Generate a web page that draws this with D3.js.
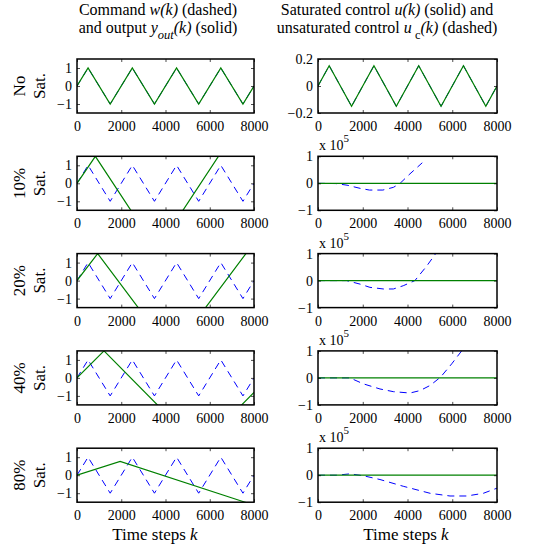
<!DOCTYPE html>
<html>
<head>
<meta charset="utf-8">
<script src="https://cdn.jsdelivr.net/npm/d3@7"></script>
<style>
  body { margin: 0; background: #fff; }
  svg text { font-family: "Liberation Serif", "Times New Roman", serif; }
</style>
</head>
<body>
<div class="graph"></div>
<script>
// time axis
var xTicks = [0, 2000, 4000, 6000, 8000];

// command w(k): triangle wave, same for every row
var wK = [0, 500, 1500, 2500, 3500, 4500, 5500, 6500, 7500, 8000];
var wV = [0, 1, -1, 1, -1, 1, -1, 1, -1, 0];
// no saturation: control u(k) = uc(k)
var uNoSatV = [0, 0.15, -0.15, 0.15, -0.15, 0.15, -0.15, 0.15, -0.15, 0];

// output y_out(k) for each saturation level (turning points)
var y10K = [0, 830, 3610, 8000];
var y10V = [0, 1.5, -3.7, 4.5];
var y20K = [0, 935, 4290, 8000];
var y20V = [0, 1.5, -4.0, 2.1];
var y40K = [0, 1220, 5550, 8000];
var y40V = [0, 1.5, -3.88, -0.8];
var y80K = [0, 1950, 7600, 8000];
var y80V = [0, 0.77, -1.5, -1.66];

// unsaturated control uc(k), in units of 1e5
var uc10K = [0, 800, 1300, 1900, 2300, 2900, 3370, 3670, 4110, 4660];
var uc10V = [0, -0.01, -0.07, -0.19, -0.25, -0.25, -0.15, 0, 0.35, 0.76];
var uc20K = [0, 1280, 1880, 2320, 2920, 3370, 3810, 4330, 4860, 5260];
var uc20V = [0, 0, -0.13, -0.25, -0.31, -0.31, -0.19, 0, 0.54, 1.0];
var uc40K = [0, 1430, 2025, 2770, 3370, 4110, 4560, 5010, 5480, 5975, 6420];
var uc40V = [0, 0, -0.22, -0.41, -0.51, -0.56, -0.47, -0.28, 0.03, 0.52, 1.0];
var uc80K = [0, 830, 1430, 2025, 2770, 3810, 5010, 5900, 6650, 7390, 8000];
var uc80V = [0, 0, 0.05, -0.02, -0.16, -0.41, -0.67, -0.77, -0.77, -0.67, -0.48];
// saturated control u(k), in units of 1e5 (tiny)
var uSatK = [0, 8000];
var uSatV = [0, 0];

var rowLabels = [['No', 'Sat.'], ['10%', 'Sat.'], ['20%', 'Sat.'], ['40%', 'Sat.'], ['80%', 'Sat.']];
var leftYTicks = [-1, 0, 1];
var rightYTicks0 = [-0.2, 0, 0.2];
var rightYTicks = [-1, 0, 1];

function pairs(ks, vs) {
  return ks.map(function (k, i) { return [k, vs[i]]; });
}

var rows = [
  { w: pairs(wK, wV), y: pairs(wK, wV), uc: pairs(wK, uNoSatV), u: pairs(wK, uNoSatV), uDom: [-0.2, 0.2], uTicks: rightYTicks0, exp: false },
  { w: pairs(wK, wV), y: pairs(y10K, y10V), uc: pairs(uc10K, uc10V), u: pairs(uSatK, uSatV), uDom: [-1, 1], uTicks: rightYTicks, exp: true },
  { w: pairs(wK, wV), y: pairs(y20K, y20V), uc: pairs(uc20K, uc20V), u: pairs(uSatK, uSatV), uDom: [-1, 1], uTicks: rightYTicks, exp: true },
  { w: pairs(wK, wV), y: pairs(y40K, y40V), uc: pairs(uc40K, uc40V), u: pairs(uSatK, uSatV), uDom: [-1, 1], uTicks: rightYTicks, exp: true },
  { w: pairs(wK, wV), y: pairs(y80K, y80V), uc: pairs(uc80K, uc80V), u: pairs(uSatK, uSatV), uDom: [-1, 1], uTicks: rightYTicks, exp: true }
];

var rowTop = 59, rowPitch = 97.3, rowH = 54;
var colL = [77, 254], colR = [318, 497];
var blue = '#0000ff', green = '#008000';
var serif = '"Liberation Serif", "Times New Roman", serif';

var svg = d3.select('.graph')
  .append('svg')
  .attr('width', 548)
  .attr('height', 546);

var defs = svg.append('defs');
var fmt = d3.format('');

function panel(id, cols, top, yDom, yTicks, dashed, solid) {
  var x = d3.scaleLinear().domain([0, 8000]).range(cols);
  var y = d3.scaleLinear().domain(yDom).range([top + rowH, top]);
  var g = svg.append('g');

  defs.append('clipPath').attr('id', id)
    .append('rect')
    .attr('x', cols[0]).attr('y', top)
    .attr('width', cols[1] - cols[0]).attr('height', rowH);

  var line = d3.line()
    .x(function (d) { return x(d[0]); })
    .y(function (d) { return y(d[1]); });

  var lines = g.append('g').attr('clip-path', 'url(#' + id + ')');
  lines.append('path')
    .attr('d', line(dashed))
    .attr('fill', 'none')
    .attr('stroke', blue)
    .attr('stroke-width', 1)
    .attr('stroke-dasharray', '7,5');
  lines.append('path')
    .attr('d', line(solid))
    .attr('fill', 'none')
    .attr('stroke', green)
    .attr('stroke-width', 1.2);

  // axes, ticks pointing inward like matlab
  g.append('g')
    .attr('transform', 'translate(0,' + (top + rowH) + ')')
    .call(d3.axisBottom(x).tickValues(xTicks).tickFormat(fmt).tickSizeInner(-3).tickSizeOuter(0).tickPadding(8));
  g.append('g')
    .attr('transform', 'translate(0,' + top + ')')
    .call(d3.axisTop(x).tickValues(xTicks).tickFormat('').tickSizeInner(-3).tickSizeOuter(0));
  g.append('g')
    .attr('transform', 'translate(' + cols[0] + ',0)')
    .call(d3.axisLeft(y).tickValues(yTicks).tickFormat(fmt).tickSizeInner(-3).tickSizeOuter(0).tickPadding(5));
  g.append('g')
    .attr('transform', 'translate(' + cols[1] + ',0)')
    .call(d3.axisRight(y).tickValues(yTicks).tickFormat('').tickSizeInner(-3).tickSizeOuter(0));

  g.selectAll('.domain').remove();
  g.selectAll('.tick line').attr('stroke', '#000').attr('stroke-width', 0.7);
  g.selectAll('.tick text')
    .attr('font-family', serif)
    .attr('font-size', 14)
    .attr('fill', '#000');

  g.append('rect')
    .attr('x', cols[0]).attr('y', top)
    .attr('width', cols[1] - cols[0]).attr('height', rowH)
    .attr('fill', 'none')
    .attr('stroke', '#000')
    .attr('stroke-width', 1.5);
}

rows.forEach(function (r, i) {
  var top = rowTop + i * rowPitch;
  panel('cl' + i, colL, top, [-1.5, 1.5], leftYTicks, r.w, r.y);
  panel('cr' + i, colR, top, r.uDom, r.uTicks, r.uc, r.u);

  if (r.exp) {
    var t = svg.append('text')
      .attr('x', colR[0] + 1)
      .attr('y', top - 6)
      .attr('font-size', 14);
    t.append('tspan').text('x 10');
    t.append('tspan').attr('dy', -8).attr('font-size', 11).text('5');
  }

  var lab = svg.append('text')
    .attr('transform', 'translate(0,' + (top + rowH / 2) + ') rotate(-90)')
    .attr('text-anchor', 'middle')
    .attr('font-size', 17);
  lab.append('tspan').attr('x', 0).attr('y', 25).text(rowLabels[i][0]);
  lab.append('tspan').attr('x', 0).attr('y', 45).text(rowLabels[i][1]);
});

// titles, two lines each
var t1 = svg.append('text').attr('x', 158).attr('y', 15).attr('text-anchor', 'middle').attr('font-size', 16);
t1.append('tspan').text('Command  ');
t1.append('tspan').attr('font-style', 'italic').text('w(k)');
t1.append('tspan').text(' (dashed)');

var t2 = svg.append('text').attr('x', 158).attr('y', 33).attr('text-anchor', 'middle').attr('font-size', 16);
t2.append('tspan').text('and output  ');
t2.append('tspan').attr('font-style', 'italic').text('y');
t2.append('tspan').attr('font-style', 'italic').attr('font-size', 12.5).attr('dy', 6).text('out');
t2.append('tspan').attr('font-style', 'italic').attr('dy', -6).text('(k)');
t2.append('tspan').text(' (solid)');

var t3 = svg.append('text').attr('x', 387).attr('y', 15).attr('text-anchor', 'middle').attr('font-size', 16);
t3.append('tspan').text('Saturated control  ');
t3.append('tspan').attr('font-style', 'italic').text('u(k)');
t3.append('tspan').text(' (solid) and');

var t4 = svg.append('text').attr('x', 387).attr('y', 33).attr('text-anchor', 'middle').attr('font-size', 16);
t4.append('tspan').text('unsaturated control  ');
t4.append('tspan').attr('font-style', 'italic').text('u');
t4.append('tspan').attr('font-size', 12.5).attr('dy', 6).text(' c');
t4.append('tspan').attr('font-style', 'italic').attr('dy', -6).text('(k)');
t4.append('tspan').text(' (dashed)');

// x labels
[155, 406].forEach(function (cx) {
  var xl = svg.append('text').attr('x', cx).attr('y', 540).attr('text-anchor', 'middle').attr('font-size', 17);
  xl.append('tspan').text('Time steps  ');
  xl.append('tspan').attr('font-style', 'italic').text('k');
});
</script>
</body>
</html>
